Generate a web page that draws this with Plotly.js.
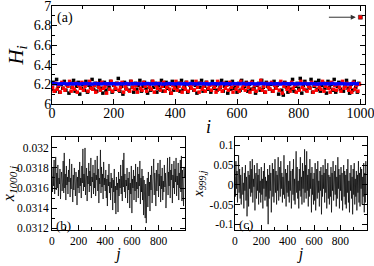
<!DOCTYPE html>
<html><head><meta charset="utf-8">
<script src="https://cdn.plot.ly/plotly-3.0.1.min.js"></script>
<style>body{margin:0;background:#fff}#c{width:374px;height:266px}</style>
</head><body><div id="c"></div>
<script>
// Panel (a): H_i, sampled every 5th i
const stepA = 5;
const hBlack = [
6.15,6.22,6.13,6.25,6.18,6.12,6.20,6.16,6.23,6.14,
6.19,6.11,6.21,6.17,6.24,6.13,6.18,6.22,6.10,6.16,
6.20,6.14,6.23,6.12,6.19,6.17,6.25,6.15,6.21,6.13,
6.18,6.24,6.16,6.11,6.22,6.14,6.20,6.17,6.23,6.12,
6.19,6.15,6.21,6.26,6.13,6.18,6.10,6.22,6.16,6.20,
6.14,6.23,6.17,6.12,6.21,6.15,6.19,6.24,6.13,6.18,
6.22,6.16,6.11,6.20,6.14,6.23,6.17,6.21,6.12,6.19,
6.15,6.24,6.13,6.18,6.22,6.16,6.20,6.11,6.23,6.14,
6.19,6.17,6.21,6.13,6.24,6.15,6.18,6.22,6.12,6.20,
6.16,6.23,6.14,6.19,6.11,6.21,6.17,6.24,6.13,6.18,
6.22,6.15,6.20,6.12,6.23,6.16,6.19,6.14,6.21,6.17,
6.24,6.13,6.18,6.22,6.11,6.20,6.15,6.23,6.16,6.19,
6.12,6.21,6.14,6.24,6.17,6.18,6.22,6.13,6.20,6.15,
6.23,6.16,6.11,6.19,6.21,6.14,6.24,6.17,6.12,6.22,
6.18,6.15,6.20,6.13,6.23,6.16,6.19,6.10,6.21,6.14,
6.09,6.22,6.17,6.12,6.20,6.15,6.25,6.13,6.18,6.21,
6.16,6.26,6.11,6.19,6.23,6.14,6.20,6.17,6.25,6.12,
6.18,6.22,6.15,6.24,6.13,6.19,6.21,6.16,6.11,6.23,
6.17,6.20,6.14,6.25,6.12,6.18,6.22,6.15,6.21,6.13,
6.19,6.24,6.16,6.11,6.20,6.14,6.23,6.17,6.12,6.21];
const hRed = [
6.17,6.13,6.21,6.15,6.19,6.12,6.22,6.16,6.14,6.20,
6.18,6.23,6.13,6.17,6.15,6.21,6.12,6.19,6.16,6.22,
6.14,6.18,6.20,6.13,6.23,6.16,6.15,6.19,6.12,6.21,
6.17,6.14,6.22,6.16,6.18,6.11,6.20,6.15,6.23,6.13,
6.19,6.16,6.21,6.14,6.17,6.22,6.12,6.18,6.15,6.20,
6.13,6.23,6.17,6.15,6.19,6.12,6.21,6.16,6.14,6.22,
6.18,6.13,6.20,6.17,6.15,6.23,6.12,6.19,6.16,6.21,
6.14,6.18,6.22,6.13,6.17,6.20,6.15,6.11,6.19,6.16,
6.23,6.14,6.18,6.21,6.12,6.17,6.15,6.22,6.13,6.19,
6.16,6.20,6.14,6.23,6.17,6.12,6.21,6.15,6.18,6.13,
6.22,6.16,6.19,6.14,6.20,6.17,6.12,6.23,6.15,6.18,
6.13,6.21,6.16,6.19,6.14,6.22,6.17,6.12,6.20,6.15,
6.18,6.13,6.23,6.16,6.19,6.14,6.21,6.17,6.12,6.22,
6.15,6.19,6.13,6.20,6.16,6.24,6.14,6.18,6.12,6.21,
6.17,6.15,6.22,6.13,6.19,6.16,6.20,6.14,6.23,6.11,
6.18,6.21,6.15,6.17,6.13,6.22,6.16,6.19,6.12,6.20,
6.14,6.23,6.17,6.15,6.21,6.13,6.18,6.16,6.22,6.12,
6.19,6.14,6.20,6.17,6.15,6.23,6.13,6.18,6.21,6.16,
6.12,6.22,6.15,6.19,6.14,6.20,6.17,6.13,6.23,6.16,
6.18,6.21,6.14,6.17,6.12,6.22,6.15,6.19,6.13,6.20];
const stepBlue = 10;
const hBlue = [
6.205,6.207,6.204,6.206,6.208,6.203,6.206,6.205,6.207,6.204,
6.206,6.208,6.205,6.203,6.207,6.206,6.204,6.208,6.205,6.206,
6.207,6.204,6.206,6.205,6.208,6.203,6.206,6.207,6.205,6.204,
6.206,6.208,6.204,6.205,6.207,6.206,6.203,6.205,6.208,6.206,
6.204,6.207,6.205,6.206,6.203,6.208,6.205,6.204,6.207,6.206,
6.205,6.203,6.207,6.206,6.204,6.208,6.205,6.206,6.204,6.207,
6.206,6.205,6.208,6.203,6.206,6.207,6.204,6.205,6.208,6.206,
6.204,6.207,6.205,6.206,6.203,6.208,6.206,6.205,6.207,6.204,
6.206,6.205,6.208,6.204,6.207,6.206,6.203,6.205,6.207,6.206,
6.205,6.208,6.204,6.206,6.207,6.205,6.203,6.206,6.208,6.205];
const outlierI = [1000];
const outlierH = [6.885];

// Panels (b), (c): sampled every 4th j
const stepJ = 4;
const x1000 = [
.031720,.031560,.031810,.031620,.031880,.031540,.031690,.031910,.031580,.031750,
.031600,.031830,.031520,.031700,.031640,.031790,.031490,.031680,.031760,.031570,
.031650,.031870,.031550,.031950,.031600,.031740,.031480,.031820,.031630,.031710,
.031540,.031780,.031660,.031890,.031510,.031700,.031590,.031840,.031620,.031460,
.031730,.031580,.031800,.031640,.031520,.031760,.031690,.031430,.031710,.031600,
.031780,.031550,.031860,.031620,.031700,.031500,.031820,.031650,.031990,.031570,
.031740,.031610,.032000,.031530,.031690,.031800,.031470,.031720,.031640,.031850,
.031560,.031770,.031620,.031900,.031500,.031710,.031660,.031830,.031540,.031750,
.031600,.031880,.031520,.031730,.031680,.031920,.031570,.031790,.031450,.031700,
.031640,.031980,.031550,.031810,.031610,.031740,.031490,.031860,.031630,.031700,
.031570,.031780,.031500,.031690,.031420,.031730,.031620,.031840,.031550,.031660,
.031480,.031750,.031600,.031700,.031380,.031680,.031560,.031790,.031450,.031620,
.031340,.031710,.031580,.031650,.031360,.031760,.031520,.031690,.031600,.031830,
.031540,.031720,.031470,.031880,.031610,.031950,.031560,.031740,.031500,.031680,
.031620,.031800,.031450,.031700,.031580,.031760,.031400,.031650,.031540,.031820,
.031350,.031690,.031600,.031780,.031480,.031720,.031570,.031840,.031460,.031660,
.031590,.031810,.031500,.031740,.031620,.031870,.031440,.031700,.031560,.031790,
.031480,.031720,.031330,.031680,.031550,.031300,.031640,.031250,.031600,.031700,
.031410,.031760,.031520,.031660,.031370,.031730,.031580,.031820,.031450,.031690,
.031600,.031890,.031530,.031750,.031650,.031420,.031780,.031570,.031700,.031850,
.031510,.031740,.031620,.031880,.031460,.031720,.031590,.031800,.031480,.031670,
.031560,.031830,.031610,.031750,.031400,.031700,.031640,.031900,.031530,.031760,
.031620,.031910,.031500,.031780,.031680,.031840,.031450,.031730,.031600,.031870,
.031540,.031790,.031660,.031900,.031520,.031720,.031630,.031850,.031480,.031750,
.031600,.031880,.031560,.031920,.031470,.031780,.031640,.031420,.031810,.031700];
const x999 = [
.020,-.030,.060,-.010,.035,-.045,.010,.075,-.020,.040,
-.035,.025,-.050,.015,.045,-.025,.005,-.060,.030,-.015,
.050,-.040,.020,-.080,.010,.035,-.055,.025,-.010,.060,
-.030,.040,-.020,.065,-.045,.015,-.005,.050,-.065,.020,
.030,-.035,.055,-.015,.025,-.050,.040,-.020,.010,-.045,
.045,-.025,.015,-.060,.035,-.010,.055,-.040,.020,-.030,
.010,-.055,.040,-.100,.025,-.035,.050,-.015,.030,-.070,
.020,.055,-.030,.040,-.045,.015,.065,-.020,.035,-.050,
.025,-.015,.070,-.040,.010,.045,-.030,.060,-.010,.030,
-.045,.020,-.025,.075,-.035,.015,.040,-.055,.030,-.020,
.050,-.030,.010,-.045,.060,-.015,.035,-.060,.020,.040,
-.025,.065,-.040,.015,-.050,.030,.085,-.020,.045,-.035,
.010,-.060,.040,-.015,.070,-.030,.020,-.050,.055,-.010,
.035,-.045,.090,-.020,.050,-.035,.085,-.015,.025,-.055,
.040,-.030,.065,-.010,.030,-.070,.045,-.025,.015,-.050,
.030,-.040,.055,-.065,.020,.040,-.035,.060,-.020,.010,
-.055,.035,-.015,.045,-.075,.025,-.030,.050,-.010,.030,
-.045,.065,-.020,.040,-.060,.015,.055,-.035,.025,-.050,
.020,-.030,.045,-.070,.030,-.015,.060,-.040,.010,.035,
-.025,.050,-.055,.020,-.035,.070,-.010,.040,-.060,.025,
-.015,.045,-.040,.030,-.065,.015,.050,-.030,.035,-.050,
.025,-.060,.040,-.020,.065,-.045,.010,-.070,.030,-.015,
.050,-.035,.020,-.075,.040,-.025,.055,-.050,.015,-.030,
.035,-.065,.025,-.020,.060,-.045,.030,-.055,.045,-.010,
.040,-.050,.020,-.030,.055,-.070,.030,-.045,.060,-.025];

const ticksA_x = [0,200,400,600,800,1000];
const ticksA_y = [6,6.2,6.4,6.6,6.8,7];
const ticksBC_x = [0,200,400,600,800];
const ticksB_y = [0.0312,0.0314,0.0316,0.0318,0.032];
const ticksB_ytext = ['0.0312','0.0314','0.0316','0.0318','0.032'];
const ticksC_y = [-0.1,-0.05,0,0.05,0.1];
const ticksC_ytext = ['-0.1','-0.05','0','0.05','0.1'];

const idx = (arr, step) => arr.map((_, k) => k * step);

const serif = 'Liberation Serif';
function ax(extra){
  return Object.assign({
    showline:true, linecolor:'black', linewidth:1, mirror:'allticks',
    ticks:'inside', ticklen:5, tickwidth:1, tickcolor:'black', ticklabeloverflow:'allow',
    showgrid:false, zeroline:false, tickfont:{family:serif, size:11.5, color:'black'}
  }, extra);
}

const traces = [
  {x: idx(hBlack, stepA), y: hBlack, xaxis:'x', yaxis:'y', mode:'markers', type:'scatter',
   marker:{color:'black', size:3.5, symbol:'square'}, hoverinfo:'skip'},
  {x: idx(hRed, stepA).map(v=>v+2), y: hRed, xaxis:'x', yaxis:'y', mode:'markers', type:'scatter',
   marker:{color:'#ff0000', size:3.5, symbol:'square'}, hoverinfo:'skip'},
  {x: idx(hBlue, stepBlue), y: hBlue, xaxis:'x', yaxis:'y', mode:'markers', type:'scatter',
   marker:{color:'#0000ff', size:3.5, symbol:'square'}, hoverinfo:'skip'},
  {x: outlierI, y: outlierH, xaxis:'x', yaxis:'y', mode:'markers', type:'scatter',
   marker:{color:'#ff0000', size:4, symbol:'square', line:{color:'black', width:0.5}}, hoverinfo:'skip'},
  {x: idx(x1000, stepJ), y: x1000, xaxis:'x2', yaxis:'y2', mode:'lines', type:'scatter',
   line:{color:'black', width:0.7}, hoverinfo:'skip'},
  {x: idx(x999, stepJ), y: x999, xaxis:'x3', yaxis:'y3', mode:'lines', type:'scatter',
   line:{color:'black', width:0.7}, hoverinfo:'skip'}
];

const layout = {
  width:374, height:266, margin:{l:0,r:0,t:2,b:0}, showlegend:false,
  paper_bgcolor:'white', plot_bgcolor:'white',
  font:{family:serif, color:'black'},
  xaxis: ax({domain:[0.139,0.976], range:[0,1015], anchor:'y', tickvals:ticksA_x,
    tickfont:{family:serif, size:14, color:'black'}, ticklabelstandoff:-4,
    minor:{ticks:'inside', ticklen:3, tickcolor:'black', dtick:100, tick0:0},
    title:{text:'<i>i</i>', font:{family:serif, size:18}, standoff:0}}),
  yaxis: ax({domain:[0.614,0.985], range:[6,7], anchor:'x', tickvals:ticksA_y,
    tickfont:{family:serif, size:14, color:'black'}, ticklabelstandoff:-3,
    minor:{ticks:'inside', ticklen:3, tickcolor:'black', dtick:0.1, tick0:6},
    title:{text:'<i>H<sub>i</sub></i>', font:{family:serif, size:21}, standoff:4}}),
  xaxis2: ax({domain:[0.139,0.495], range:[0,1000], anchor:'y2', tickvals:ticksBC_x,
    minor:{ticks:'inside', ticklen:3, tickcolor:'black', dtick:100, tick0:0},
    title:{text:'<i>j</i>', font:{family:serif, size:16}, standoff:1}}),
  yaxis2: ax({domain:[0.136,0.489], range:[0.03118,0.03211], anchor:'x2',
    tickvals:ticksB_y, ticktext:ticksB_ytext,
    minor:{ticks:'inside', ticklen:3, tickcolor:'black', dtick:0.0001, tick0:0.0312},
    title:{text:'<i>x<sub>1000,j</sub></i>', font:{family:serif, size:16}, standoff:2}}),
  xaxis3: ax({domain:[0.628,0.981], range:[0,1000], anchor:'y3', tickvals:ticksBC_x,
    minor:{ticks:'inside', ticklen:3, tickcolor:'black', dtick:100, tick0:0},
    title:{text:'<i>j</i>', font:{family:serif, size:16}, standoff:1}}),
  yaxis3: ax({domain:[0.136,0.489], range:[-0.115,0.1215], anchor:'x3',
    tickvals:ticksC_y, ticktext:ticksC_ytext, ticklabelstandoff:-2,
    minor:{ticks:'inside', ticklen:3, tickcolor:'black', dtick:0.025, tick0:0},
    title:{text:'<i>x<sub>999,j</sub></i>', font:{family:serif, size:14}, standoff:2}}),
  annotations:[
    {xref:'paper', yref:'paper', x:55/374, y:1-16/264, text:'(a)', showarrow:false,
     xanchor:'left', yanchor:'middle', font:{family:serif, size:14, color:'black'}},
    {xref:'paper', yref:'paper', x:54/374, y:1-223/264, text:'(b)', showarrow:false,
     xanchor:'left', yanchor:'middle', font:{family:serif, size:13, color:'black'}},
    {xref:'paper', yref:'paper', x:237/374, y:1-222/264, text:'(c)', showarrow:false,
     xanchor:'left', yanchor:'middle', font:{family:serif, size:13, color:'black'}},
    {xref:'x', yref:'y', x:985, y:6.885, ax:893, ay:6.885, axref:'x', ayref:'y',
     text:'', showarrow:true, arrowhead:2, arrowsize:1, arrowwidth:1, arrowcolor:'#333'}
  ]
};

Plotly.newPlot('c', traces, layout, {staticPlot:true, displayModeBar:false});
</script></body></html>
